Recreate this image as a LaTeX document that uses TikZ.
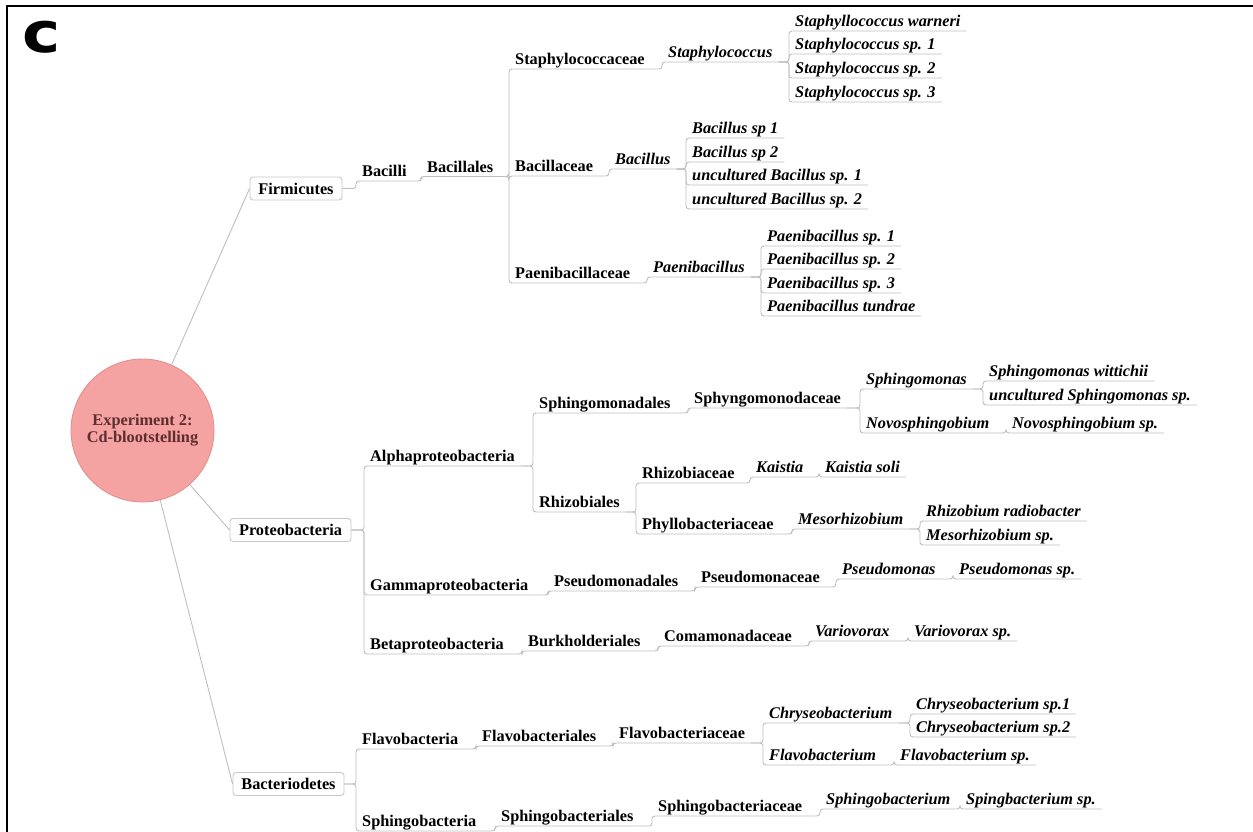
\documentclass[tikz,border=0pt]{standalone}
\usepackage{fontspec}
\setmainfont{Liberation Serif}
\newfontfamily\panelfont{DejaVu Sans}
\definecolor{linegray}{RGB}{190,190,190}
\definecolor{boxgray}{RGB}{200,200,200}
\definecolor{rootfill}{RGB}{244,162,162}
\definecolor{rootdraw}{RGB}{226,140,140}
\definecolor{roottext}{RGB}{95,45,45}
\newcommand\fsz{\fontsize{16.3}{17}\selectfont}
\newcommand\lnk[2]{\draw[conn] (#1.south east) -| (#2.south west) -- (#2.south east);}
\newcommand\blnk[2]{\draw[conn] (#1.east) -| (#2.south west) -- (#2.south east);}
\begin{document}
\begin{tikzpicture}[x=1pt,y=-1pt,
  conn/.style={draw=linegray, line width=0.9pt, rounded corners=3pt},
  lf/.style={inner xsep=6pt, inner ysep=0pt, text height=11pt, text depth=4pt, anchor=south west, font=\fsz\bfseries},
  sp/.style={lf, font=\fsz\bfseries\itshape},
  bx/.style={draw=boxgray, rounded corners=3pt, line width=0.9pt, fill=white, font=\fsz\bfseries, inner sep=0pt, minimum height=23pt}]
\useasboundingbox (0,0) rectangle (1253,832);
\clip (0,0) rectangle (1253,832);
\draw[line width=2.5pt] (7,840) -- (7,6) -- (1260,6);
\node[font=\panelfont\bfseries\fontsize{56}{56}\selectfont, inner sep=0pt, xscale=1.15] (lbl) at (42,37.5) {c};

% root
\node[circle, fill=rootfill, draw=rootdraw, line width=0.8pt, minimum size=143pt, inner sep=0pt, align=center, font=\fsz\bfseries, text=roottext] (root) at (142.5,430.5) {Experiment 2:\\Cd-blootstelling};

% Firmicutes branch
\node[bx, minimum width=92pt] (firm) at (296,188.5) {Firmicutes};
\node[lf] (bacilli) at (356,181) {Bacilli};
\node[lf] (bacillales) at (421,176.5) {Bacillales};
\node[lf] (staphcae) at (509,69) {Staphylococcaceae};
\node[sp] (staph) at (662,62) {Staphylococcus};
\node[sp] (sw) at (789,31) {Staphyllococcus warneri};
\node[sp] (s1) at (789,54) {Staphylococcus sp. 1};
\node[sp] (s2) at (789,78) {Staphylococcus sp. 2};
\node[sp] (s3) at (789,102) {Staphylococcus sp. 3};
\node[lf] (bacae) at (509,176) {Bacillaceae};
\node[sp] (bac) at (609,169) {Bacillus};
\node[sp] (b1) at (686,138) {Bacillus sp 1};
\node[sp] (b2) at (686,162) {Bacillus sp 2};
\node[sp] (b3) at (686,185) {uncultured Bacillus sp. 1};
\node[sp] (b4) at (686,209) {uncultured Bacillus sp. 2};
\node[lf] (paeae) at (509,283) {Paenibacillaceae};
\node[sp] (pae) at (647,277) {Paenibacillus};
\node[sp] (p1) at (761,246) {Paenibacillus sp. 1};
\node[sp] (p2) at (761,269) {Paenibacillus sp. 2};
\node[sp] (p3) at (761,293) {Paenibacillus sp. 3};
\node[sp] (p4) at (761,316) {Paenibacillus tundrae};

% Proteobacteria branch
\node[bx, minimum width=121pt] (prot) at (290.5,530) {Proteobacteria};
\node[lf] (alpha) at (364,466) {Alphaproteobacteria};
\node[lf] (gamma) at (364,595) {Gammaproteobacteria};
\node[lf] (beta) at (364,654) {Betaproteobacteria};
\node[lf] (sphales) at (533,413) {Sphingomonadales};
\node[lf] (rhizales) at (533,512) {Rhizobiales};
\node[lf] (sphcae) at (688,408) {Sphyngomonodaceae};
\node[sp] (sphm) at (860,389) {Sphingomonas};
\node[sp] (novo) at (860,433) {Novosphingobium};
\node[sp] (swit) at (983,381) {Sphingomonas wittichii};
\node[sp] (usph) at (983,405) {uncultured Sphingomonas sp.};
\node[sp] (novosp) at (1006,433) {Novosphingobium sp.};
\node[lf] (rhizcae) at (636,483) {Rhizobiaceae};
\node[lf] (phyl) at (636,534) {Phyllobacteriaceae};
\node[sp] (kai) at (750,477) {Kaistia};
\node[sp] (kais) at (819,477) {Kaistia soli};
\node[sp] (meso) at (792,529) {Mesorhizobium};
\node[sp] (rrad) at (920,521) {Rhizobium radiobacter};
\node[sp] (mesosp) at (920,545) {Mesorhizobium sp.};
\node[lf] (pseales) at (548,591) {Pseudomonadales};
\node[lf] (psecae) at (695,587) {Pseudomonaceae};
\node[sp] (pse) at (836,579) {Pseudomonas};
\node[sp] (psesp) at (953,579) {Pseudomonas sp.};
\node[lf] (burk) at (522,651) {Burkholderiales};
\node[lf] (coma) at (658,646) {Comamonadaceae};
\node[sp] (vario) at (809,641) {Variovorax};
\node[sp] (variosp) at (908,641) {Variovorax sp.};

% Bacteriodetes branch
\node[bx, minimum width=111pt] (bact) at (288.5,784) {Bacteriodetes};
\node[lf] (flavo) at (356,749) {Flavobacteria};
\node[lf] (sphb) at (356,831) {Sphingobacteria};
\node[lf] (flavales) at (476,746) {Flavobacteriales};
\node[lf] (flavcae) at (613,743) {Flavobacteriaceae};
\node[sp] (chry) at (763,723) {Chryseobacterium};
\node[sp] (flavb) at (763,765) {Flavobacterium};
\node[sp] (c1) at (910,714) {Chryseobacterium sp.1};
\node[sp] (c2) at (910,737) {Chryseobacterium sp.2};
\node[sp] (flavbsp) at (894,765) {Flavobacterium sp.};
\node[lf] (sphbales) at (495,826) {Sphingobacteriales};
\node[lf] (sphbcae) at (652,816) {Sphingobacteriaceae};
\node[sp] (sphbm) at (820,809) {Sphingobacterium};
\node[sp] (spingsp) at (960,809) {Spingbacterium sp.};

% connectors
\draw[conn] (root) -- (firm.west);
\draw[conn] (root) -- (prot.west);
\draw[conn] (root) -- (bact.west);

\blnk{firm}{bacilli}
\lnk{bacilli}{bacillales}
\lnk{bacillales}{staphcae}
\lnk{bacillales}{bacae}
\lnk{bacillales}{paeae}
\lnk{staphcae}{staph}
\lnk{staph}{sw}
\lnk{staph}{s1}
\lnk{staph}{s2}
\lnk{staph}{s3}
\lnk{bacae}{bac}
\lnk{bac}{b1}
\lnk{bac}{b2}
\lnk{bac}{b3}
\lnk{bac}{b4}
\lnk{paeae}{pae}
\lnk{pae}{p1}
\lnk{pae}{p2}
\lnk{pae}{p3}
\lnk{pae}{p4}

\blnk{prot}{alpha}
\blnk{prot}{gamma}
\blnk{prot}{beta}
\lnk{alpha}{sphales}
\lnk{alpha}{rhizales}
\lnk{sphales}{sphcae}
\lnk{sphcae}{sphm}
\lnk{sphcae}{novo}
\lnk{sphm}{swit}
\lnk{sphm}{usph}
\lnk{novo}{novosp}
\lnk{rhizales}{rhizcae}
\lnk{rhizales}{phyl}
\lnk{rhizcae}{kai}
\lnk{kai}{kais}
\lnk{phyl}{meso}
\lnk{meso}{rrad}
\lnk{meso}{mesosp}
\lnk{gamma}{pseales}
\lnk{pseales}{psecae}
\lnk{psecae}{pse}
\lnk{pse}{psesp}
\lnk{beta}{burk}
\lnk{burk}{coma}
\lnk{coma}{vario}
\lnk{vario}{variosp}

\blnk{bact}{flavo}
\blnk{bact}{sphb}
\lnk{flavo}{flavales}
\lnk{flavales}{flavcae}
\lnk{flavcae}{chry}
\lnk{flavcae}{flavb}
\lnk{chry}{c1}
\lnk{chry}{c2}
\lnk{flavb}{flavbsp}
\lnk{sphb}{sphbales}
\lnk{sphbales}{sphbcae}
\lnk{sphbcae}{sphbm}
\lnk{sphbm}{spingsp}
\end{tikzpicture}
\end{document}
